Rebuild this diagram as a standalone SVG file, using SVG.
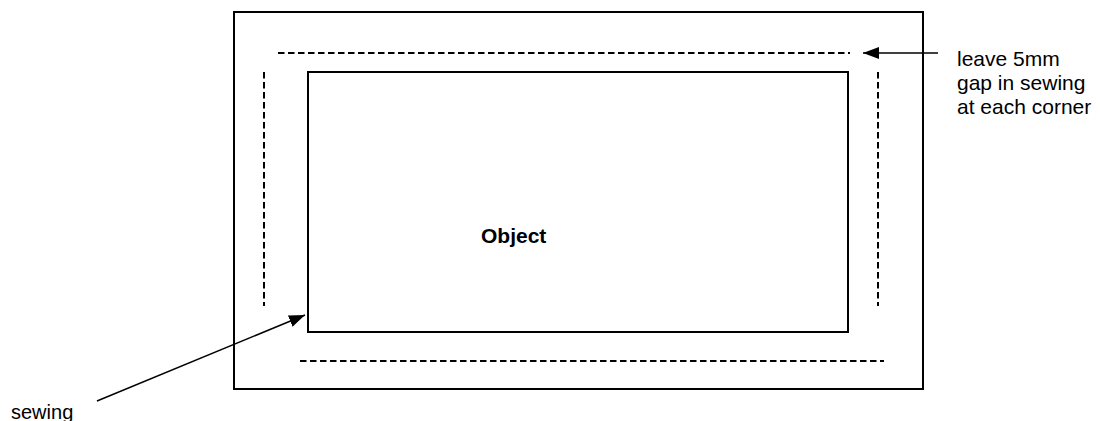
<svg xmlns="http://www.w3.org/2000/svg" width="1100" height="421" viewBox="0 0 1100 421">
<style>
.box{fill:none;stroke:#000;stroke-width:2}
.dash{fill:none;stroke:#000;stroke-width:2;stroke-dasharray:6.5 3.5}
.conn{fill:none;stroke:#000;stroke-width:1.5}
.lbl{font-family:"Liberation Sans",Arial,sans-serif;font-size:21px;fill:#000}
</style>
<defs>
<marker id="ah" markerUnits="userSpaceOnUse" markerWidth="17" markerHeight="12" refX="16" refY="6" orient="auto">
<path d="M0,0 L16,6 L0,12 Z" fill="#000"/>
</marker>
</defs>
<rect x="0" y="0" width="1100" height="421" fill="#fff"/>
<g id="outer"><rect class="box" x="234" y="12" width="689" height="377"/></g>
<g id="stitching">
<line class="dash" x1="278" y1="53" x2="850" y2="53"/>
<line class="dash" x1="264" y1="72" x2="264" y2="306"/>
<line class="dash" x1="878" y1="72" x2="878" y2="306"/>
<line class="dash" x1="300" y1="361" x2="884" y2="361"/>
</g>
<g id="object">
<rect class="box" x="308" y="72" width="540" height="260"/>
<text class="lbl" x="481" y="243" style="font-weight:bold">Object</text>
</g>
<g id="note">
<text class="lbl" x="957" y="66">leave 5mm</text>
<text class="lbl" x="957" y="90">gap in sewing</text>
<text class="lbl" x="957" y="114">at each corner</text>
</g>
<g id="sewing-label"><text class="lbl" x="11" y="419" style="font-size:20px">sewing</text></g>
<g id="connectors">
<line class="conn" x1="938" y1="53" x2="863" y2="53" marker-end="url(#ah)"/>
<line class="conn" x1="97" y1="401" x2="305" y2="315" marker-end="url(#ah)"/>
</g>
</svg>
